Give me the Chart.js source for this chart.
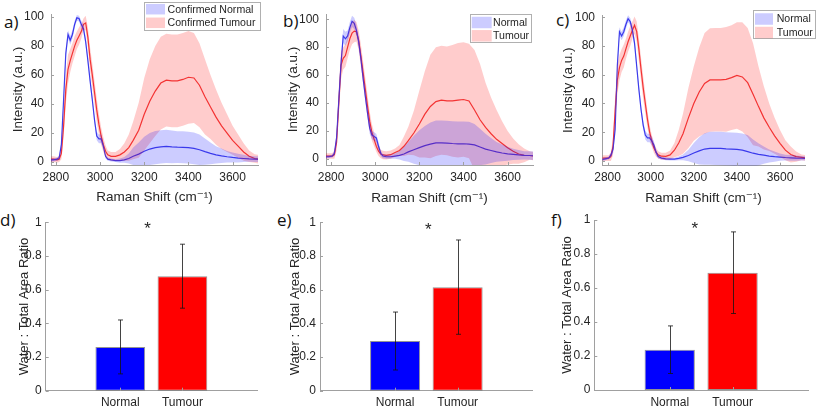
<!DOCTYPE html>
<html><head><meta charset="utf-8">
<script src="https://cdn.jsdelivr.net/npm/chart.js@4.4.1/dist/chart.umd.min.js"></script>
<style>
html,body{margin:0;padding:0;background:#fff;width:817px;height:409px;overflow:hidden;position:relative}
canvas{position:absolute}
.lbl{position:absolute;font-family:'Open Sans','Noto Sans',sans-serif;font-size:17px;line-height:20px;color:#111}
</style></head><body>
<div class="lbl" style="left:4px;top:12px">a)</div>
<div class="lbl" style="left:283px;top:11px">b)</div>
<div class="lbl" style="left:556px;top:10px">c)</div>
<div class="lbl" style="left:0px;top:210px">d)</div>
<div class="lbl" style="left:277px;top:210px">e)</div>
<div class="lbl" style="left:551px;top:210px">f)</div>
<script>
// ---------------- DATA ----------------
const wavenumbers = [2776,2790,2805,2815,2825,2835,2845,2855,2865,2875,
 2885,2895,2905,2915,2925,2935,2945,2955,2965,2975,
 2985,2995,3005,3015,3025,3035,3050,3070,3090,3110,
 3130,3150,3175,3200,3225,3250,3275,3300,3325,3350,
 3375,3400,3425,3450,3475,3500,3525,3550,3575,3600,
 3625,3650,3675,3700,3717];

// Panel a
const normalMeanA = [1.5,1.5,2,3,12,43,75,88,84,88, 95,99.5,99,95,92,83,70,56,43,29, 18,16,16,11,4,2,1.5,1,1,1.5, 2.5,4,5.5,7.5,9,10,10.5,10.8,10.5,10.3, 10.2,10,9.5,8.5,7.2,6,5,4.3,3.7,3.2, 2.8,2.5,2.2,2,2];
const normalSdA = [1,1,1,1.5,3,4,4,3,3,3, 2.5,2,2,2.5,3,3,3,3,3,3, 3,3,3,2,1.5,1,1,1,1.5,2, 3.5,6,8,10,11,11.5,11.5,11.5,11.3,11, 11,11,11,10.5,9,7.5,6,5,4,3.5, 3,2.5,2,2,2];
const tumourMeanA = [2,2,1.5,2,6,25,50,64,70,75, 80,84,87,90,95,96,86,71,60,48, 36,26,18,12,7.5,5,4,4,5,7, 10,15,22,33,42,49,54.5,56.5,56,56, 57,58.5,58,53,45,38,31,25,20,15, 11,7,4,2.5,2];
const tumourSdA = [2,2,2,2,4,8,10,10,8,7, 7,6,6,5,4,5,7,8,8,8, 8,7,6,5,4,3,3,3,4,6, 9,13,19,25,29,31,32,32,32,32, 32,32,31,29,26,22,19,16,13,10, 8,6,4,3,3];

// Panel b
const normalMeanB = [1.5,1.5,2,4,15,42,68,88,86,88, 94,98.5,97,92,84,72,58,45,33,22, 17,16,15,9,4,2,1.5,1.5,2,2.5, 3.5,5,6.5,8,9.5,10.5,11.5,11.5,11.3,11, 10.8,10.8,10.5,10,8.5,7,6,5,4.2,3.6, 3.2,2.8,2.5,2.4,2.2];
const normalSdB = [1,1,1,2,4,6,6,5,5,4, 4,4,4,4,4,4,4,4,4,4, 3,3,3,3,2,1.5,1.5,1.5,2,3, 5,7,10,12.5,14,15.5,16,16,16,16, 16,16,16,15,13,11,9,7,6,5, 4,3.5,3,3,3];
const tumourMeanB = [2,2,2,3,12,40,67,72,74,80, 86,90,91.5,91,85,74,62,50,38,27, 19,14,9,5.5,3.5,2.8,2.5,3,4.5,6, 9,13,18.5,25,32,37.5,41,42,41.5,41.5, 42,42.5,41.5,35,28,22.5,18,14,11,8, 5.5,3.5,2.5,2.4,2];
const tumourSdB = [2,2,2,3,6,10,10,8,8,8, 8,8,8,7,7,8,8,8,8,7, 6,5,4,3.5,3,3,3,3,3,4, 7,10,16,24,31,37,39,39,39,40, 41,41,41,43,40,32,26,21,16,12, 9,7,5,3,3];

// Panel c
const normalMeanC = [1,1.5,2,4,8,22,66,90,87,90, 95,99,97,91,82,66,50,36,25,18, 16,16,14,11,6,3,2,1.5,1.3,1.3, 1.8,2.5,3.8,5.5,7,8.3,8.8,8.8,8.7,8.4, 8.2,8,7.5,6.5,5.4,4.6,4,3.4,3,2.7, 2.4,2.2,2,1.9,1.8];
const normalSdC = [1,1,1,1.5,3,4,4,3,3,3, 3,2.5,2.5,3,3,3,3,3,3,3, 3,3,3,2.5,2,1.5,1,1,1,1, 1.3,2,4,7,9.5,11,11.5,11.6,11.6,11.6, 11.6,11.7,11.7,11.5,9.5,7.7,6,4.5,3.5,2.5, 2,2,1.8,1.5,1.5];
const tumourMeanC = [2,2,2,3,10,35,56,65,70,73, 78,83,87,91,94.5,90,78,64,51,40, 29,20,14,9,6,4.2,3.3,3.2,4.2,7.5, 12.5,19,30,40,48,54,56.4,56.5,56.5,56.8, 58,59.5,58.5,54.5,46.5,38,30,23.5,17.5,12.3, 7.5,4.5,3,2.5,2.2];
const tumourSdC = [2,2,2,3,6,10,10,9,8,8, 7,7,7,6,6,7,8,8,8,7, 6,5,4,3.5,3,2.5,2.5,2.5,3,5, 9,14,21,26,31,35,36,36,36,36.5, 36.5,37,38,38,35.5,28,22,16.5,12.5,9.3, 7,5.5,3.5,2,2];

const spectraXTicks = [2800,3000,3200,3400,3600];
const spectraYTicks = [0,20,40,60,80,100];
const legendLabelsA = ['Confirmed Normal','Confirmed Tumour'];
const legendLabelsBC = ['Normal','Tumour'];
const spectraXTitle = 'Raman Shift (cm\u207B\u00B9)';
const spectraYTitle = 'Intensity (a.u.)';

// Bar panels d, e, f
const barCategories = ['Normal','Tumour'];
const barMeansD = [0.26, 0.68];
const barErrD   = [0.16, 0.19];
const barMeansE = [0.295, 0.615];
const barErrE   = [0.172, 0.28];
const barMeansF = [0.237, 0.69];
const barErrF   = [0.14, 0.24];
const barYTicks = [0,0.2,0.4,0.6,0.8,1];
const barYTitle = 'Water : Total Area Ratio';
const significanceMark = '*';
const starX = [1.44, 1.53, 1.40];
const starY = [0.93, 0.925, 0.918];

// ---------------- RENDERING ----------------
const FONT = "'Liberation Sans','DejaVu Sans',Arial,sans-serif";
const TEXT = '#262626';
const AXIS = '#a0a0a0';
const BLUE_BAND = 'rgba(0,0,255,0.2)';
const RED_BAND = 'rgba(255,0,0,0.2)';

function makeCanvas(box) {
  const c = document.createElement('canvas');
  c.width = box.w; c.height = box.h;
  c.style.left = box.x + 'px'; c.style.top = box.y + 'px';
  c.style.width = box.w + 'px'; c.style.height = box.h + 'px';
  document.body.appendChild(c);
  return c;
}

function inwardTicks() {
  return {
    id: 'inwardTicks',
    afterDraw(chart) {
      const {ctx, chartArea: ca, scales} = chart;
      ctx.save(); ctx.strokeStyle = AXIS; ctx.lineWidth = 1; ctx.beginPath();
      scales.y.ticks.forEach(t => { const p = Math.round(scales.y.getPixelForValue(t.value)) + 0.5; ctx.moveTo(ca.left, p); ctx.lineTo(ca.left + 3, p); });
      scales.x.ticks.forEach(t => { const p = Math.round(scales.x.getPixelForValue(t.value)) + 0.5; ctx.moveTo(p, ca.bottom); ctx.lineTo(p, ca.bottom - 3); });
      ctx.stroke(); ctx.restore();
    }
  };
}

function boxLegend(cfg, labels, box) {
  return {
    id: 'boxLegend',
    afterDraw(chart) {
      const ctx = chart.ctx; ctx.save();
      const x = cfg.x - box.x, y = cfg.y - box.y;
      ctx.fillStyle = '#fff'; ctx.fillRect(x, y, cfg.w, cfg.h);
      ctx.strokeStyle = '#b0b0b0'; ctx.lineWidth = 1; ctx.strokeRect(Math.round(x)+0.5, Math.round(y)+0.5, Math.round(cfg.w), Math.round(cfg.h));
      const colors = [BLUE_BAND, RED_BAND];
      ctx.font = cfg.size + 'px ' + FONT; ctx.textBaseline = 'middle'; ctx.textAlign = 'left';
      labels.forEach((lab, i) => {
        const cy = cfg.cy[i] - box.y;
        ctx.fillStyle = colors[i];
        ctx.fillRect(cfg.px - box.x, cy - cfg.ph / 2, cfg.pw, cfg.ph);
        ctx.fillStyle = TEXT;
        ctx.fillText(lab, cfg.tx - box.x, cy + 0.5);
      });
      ctx.restore();
    }
  };
}

function pts(mean, sd, sign) {
  return wavenumbers.map((w, i) => ({x: w, y: mean[i] + sign * (sd ? sd[i] : 0)}));
}

function axisCommon(size) {
  return {
    grid: {display: false, drawTicks: false},
    border: {display: true, color: AXIS, width: 1},
    ticks: {color: TEXT, font: {family: FONT, size: size}, autoSkip: false, maxRotation: 0, minRotation: 0}
  };
}

function spectrumPanel(p) {
  const box = p.box, area = p.area;
  const lh = 13.5 * 1.2;
  const pad = {left: p.yTitleX - box.x - lh / 2, top: area.t - box.y, right: box.x + box.w - area.r, bottom: box.y + box.h - (p.xTitleY + lh / 2)};
  const yW = area.l - box.x - pad.left;
  const xH = box.y + box.h - pad.bottom - area.b;
  const cv = makeCanvas(box);
  const xAxis = axisCommon(12), yAxis = axisCommon(12);
  Object.assign(xAxis, {type: 'linear', min: p.xr[0], max: p.xr[1], offset: false,
    afterBuildTicks: s => { s.ticks = spectraXTicks.map(v => ({value: v})); },
    afterFit: s => { s.height = xH; },
    title: {display: true, text: spectraXTitle, color: TEXT, padding: 0, font: {family: FONT, size: 13.5}}});
  xAxis.ticks.padding = 5; xAxis.ticks.callback = v => String(v);
  Object.assign(yAxis, {type: 'linear', min: p.yr[0], max: p.yr[1],
    afterBuildTicks: s => { s.ticks = spectraYTicks.map(v => ({value: v})); },
    afterFit: s => { s.width = yW; },
    title: {display: true, text: spectraYTitle, color: TEXT, padding: 0, font: {family: FONT, size: 13.5}}});
  yAxis.ticks.padding = 7; yAxis.ticks.callback = v => String(v);
  const band = (data, color, fill) => ({data, fill, backgroundColor: color, borderWidth: 0, pointRadius: 0, tension: 0});
  new Chart(cv, {
    type: 'line',
    data: {datasets: [
      band(pts(p.nMean, p.nSd, 1), BLUE_BAND, '+1'),
      band(pts(p.nMean, p.nSd, -1), 'transparent', false),
      band(pts(p.tMean, p.tSd, 1), RED_BAND, '+1'),
      band(pts(p.tMean, p.tSd, -1), 'transparent', false),
      {data: pts(p.nMean, null, 0), fill: false, borderColor: '#4848e8', borderWidth: 1.2, pointRadius: 0, tension: 0},
      {data: pts(p.tMean, null, 0), fill: false, borderColor: '#f04040', borderWidth: 1.2, pointRadius: 0, tension: 0}
    ]},
    options: {
      responsive: false, animation: false, devicePixelRatio: 1,
      layout: {padding: pad},
      plugins: {legend: {display: false}, tooltip: {enabled: false}},
      scales: {x: xAxis, y: yAxis}
    },
    plugins: [inwardTicks(), boxLegend(p.legend, p.labels, box)]
  });
}

function barPanel(p) {
  const box = p.box, area = p.area;
  const lh = 13 * 1.2;
  const pad = {left: p.yTitleX - box.x - lh / 2, top: area.t - box.y, right: box.x + box.w - area.r, bottom: 0};
  const yW = area.l - box.x - pad.left;
  const xH = box.y + box.h - area.b;
  const cv = makeCanvas(box);
  const xAxis = axisCommon(12), yAxis = axisCommon(12);
  Object.assign(xAxis, {type: 'linear', min: -0.2, max: 3.2, offset: false,
    afterBuildTicks: s => { s.ticks = barCategories.map((c, i) => ({value: i + 1})); },
    afterFit: s => { s.height = xH; }});
  xAxis.ticks.padding = 5; xAxis.ticks.callback = v => barCategories[Math.round(v) - 1] || '';
  Object.assign(yAxis, {type: 'linear', min: 0, max: 1,
    afterBuildTicks: s => { s.ticks = barYTicks.map(v => ({value: v})); },
    afterFit: s => { s.width = yW; },
    title: {display: true, text: barYTitle, color: TEXT, padding: 0, font: {family: FONT, size: 13}}});
  yAxis.ticks.padding = 4; yAxis.ticks.callback = v => String(v);
  const errPlugin = {
    id: 'errorBars',
    afterDatasetsDraw(chart) {
      const ctx = chart.ctx, ys = chart.scales.y, xs = chart.scales.x;
      const meta = chart.getDatasetMeta(0);
      ctx.save(); ctx.strokeStyle = 'rgba(20,20,20,0.8)'; ctx.lineWidth = 1; ctx.beginPath();
      meta.data.forEach((bar, i) => {
        const x = Math.round(bar.x) + 0.5;
        const top = ys.getPixelForValue(p.means[i] + p.errs[i]);
        const bot = ys.getPixelForValue(p.means[i] - p.errs[i]);
        ctx.moveTo(x, top); ctx.lineTo(x, bot);
        ctx.moveTo(x - 2.5, top); ctx.lineTo(x + 2.5, top);
        ctx.moveTo(x - 2.5, bot); ctx.lineTo(x + 2.5, bot);
      });
      ctx.stroke();
      ctx.fillStyle = TEXT; ctx.font = '17px ' + FONT; ctx.textAlign = 'center'; ctx.textBaseline = 'alphabetic';
      ctx.fillText(significanceMark, xs.getPixelForValue(p.starX), ys.getPixelForValue(p.starY));
      ctx.restore();
    }
  };
  new Chart(cv, {
    type: 'bar',
    data: {datasets: [{
      data: barCategories.map((c, i) => ({x: i + 1, y: p.means[i]})),
      backgroundColor: ['#0000ff', '#ff0000'],
      borderColor: 'rgba(60,60,60,0.55)', borderWidth: 1, borderSkipped: false,
      barPercentage: 0.8, categoryPercentage: 1
    }]},
    options: {
      responsive: false, animation: false, devicePixelRatio: 1,
      layout: {padding: pad},
      plugins: {legend: {display: false}, tooltip: {enabled: false}},
      scales: {x: xAxis, y: yAxis}
    },
    plugins: [inwardTicks(), errPlugin]
  });
}

spectrumPanel({box: {x: 0, y: 0, w: 272, h: 208}, area: {l: 51, t: 14, r: 258, b: 165},
  xr: [2778, 3715], yr: [-2, 102], yTitleX: 18, xTitleY: 197,
  nMean: normalMeanA, nSd: normalSdA, tMean: tumourMeanA, tSd: tumourSdA, labels: legendLabelsA,
  legend: {x: 143.5, y: 2, w: 115.5, h: 27.5, px: 146, pw: 19, ph: 10.5, tx: 167.5, cy: [9.2, 22.8], size: 10.6}});
spectrumPanel({box: {x: 272, y: 0, w: 272, h: 208}, area: {l: 326, t: 14, r: 533, b: 165},
  xr: [2777, 3715], yr: [-4.4, 103.6], yTitleX: 293, xTitleY: 198,
  nMean: normalMeanB, nSd: normalSdB, tMean: tumourMeanB, tSd: tumourSdB, labels: legendLabelsBC,
  legend: {x: 470, y: 14.3, w: 60.7, h: 28.4, px: 471.7, pw: 20, ph: 11.5, tx: 493, cy: [22.5, 35.8], size: 10.6}});
spectrumPanel({box: {x: 544, y: 0, w: 273, h: 208}, area: {l: 602, t: 15, r: 805, b: 165.7},
  xr: [2774, 3716], yr: [-3.3, 101.6], yTitleX: 568, xTitleY: 198,
  nMean: normalMeanC, nSd: normalSdC, tMean: tumourMeanC, tSd: tumourSdC, labels: legendLabelsBC,
  legend: {x: 753.3, y: 10, w: 61.7, h: 28.3, px: 755, pw: 18, ph: 11.5, tx: 776.7, cy: [19, 32.5], size: 10.6}});

barPanel({box: {x: 0, y: 208, w: 272, h: 201}, area: {l: 45.7, t: 222.3, r: 257, b: 390.7}, yTitleX: 24,
  means: barMeansD, errs: barErrD, starX: starX[0], starY: starY[0]});
barPanel({box: {x: 272, y: 208, w: 272, h: 201}, area: {l: 320, t: 222.3, r: 532.7, b: 390.7}, yTitleX: 295,
  means: barMeansE, errs: barErrE, starX: starX[1], starY: starY[1]});
barPanel({box: {x: 544, y: 208, w: 273, h: 201}, area: {l: 594.3, t: 220, r: 808, b: 390}, yTitleX: 567.5,
  means: barMeansF, errs: barErrF, starX: starX[2], starY: starY[2]});
</script>
</body></html>
